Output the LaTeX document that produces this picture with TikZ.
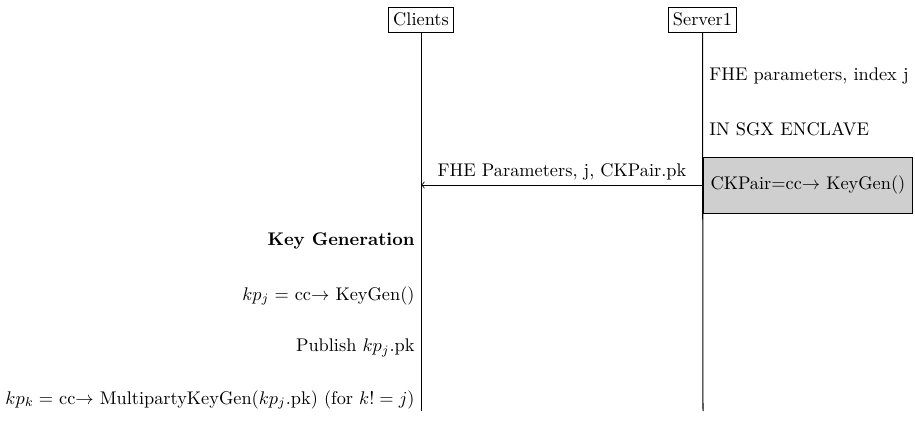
\documentclass[tikz,border=0pt]{standalone}
\usetikzlibrary{calc}
\begin{document}
\begin{tikzpicture}[x=0.546pt,y=-0.546pt,
  lifeline/.style={draw, line width=0.55pt},
  header/.style={draw, line width=0.45pt, inner sep=2.5pt, minimum height=25*0.546pt},
  note/.style={inner sep=3.33pt},
  encl/.style={draw, line width=0.45pt, fill=black!19, minimum width=209*0.546pt, minimum height=56*0.546pt, inner sep=3pt}]
\useasboundingbox (0,0) rectangle (915,424);
\node[header] (clients) at (421,19.5) {Clients};
\node[header] (server) at (702.5,19.5) {Server1};
\coordinate (clientsEnd) at (421,411);
\coordinate (serverEnd) at (703,411);
\draw[lifeline] (clients.south) -- (clientsEnd);
\draw[lifeline] (server.south) -- (serverEnd);
\node[note, anchor=west] (fhe) at (703,76) {FHE parameters, index j};
\node[note, anchor=west] (sgx) at (703,129) {IN SGX ENCLAVE};
\node[encl, anchor=west] (ck) at (703,185) {CKPair=cc$\rightarrow$ KeyGen()};
\draw[line width=0.5pt,->] (ck.west) -- (ck.west -| clients.south) node[midway, above, yshift=-1pt] (msg) {FHE Parameters, j, CKPair.pk};
\node[note, anchor=east] (kg) at (421,241) {\textbf{Key Generation}};
\node[note, anchor=east] (kpj) at (421,296) {$kp_j =$ cc$\rightarrow$ KeyGen()};
\node[note, anchor=east] (pub) at (421,348) {Publish $kp_j$.pk};
\node[note, anchor=east] (kpk) at (421,400) {$kp_k =$ cc$\rightarrow$ MultipartyKeyGen($kp_j$.pk) (for $k! = j$)};
\end{tikzpicture}
\end{document}
